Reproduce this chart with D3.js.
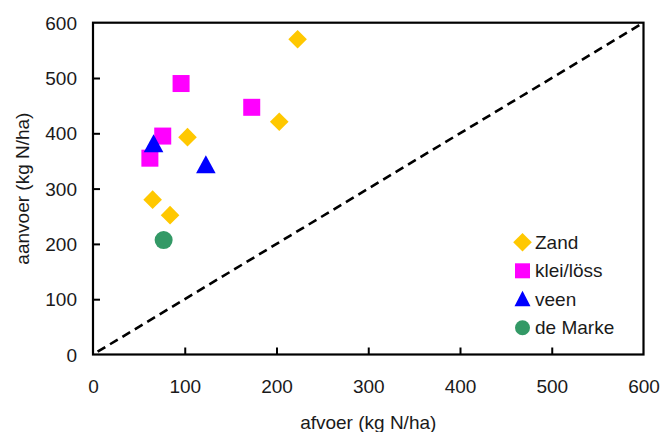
<!DOCTYPE html>
<html><head><meta charset="utf-8">
<script src="https://cdn.jsdelivr.net/npm/d3@7"></script>
<style>body{margin:0;background:#fff}svg{display:block}text{font-family:"Liberation Sans",Arial,sans-serif;fill:#1a1a1a}</style>
</head><body><svg id="c" width="663" height="432"></svg>
<script>
const xTicks = [0,100,200,300,400,500,600];
const yTicks = [0,100,200,300,400,500,600];
const seriesNames = ["Zand","klei/löss","veen","de Marke"];
const zandX = [223,203,103,65,84];
const zandY = [570,421,393,280,252];
const kleiX = [96,173,76,62];
const kleiY = [490,447,395,355];
const veenX = [66,123];
const veenY = [381,343];
const markeX = [77];
const markeY = [207];
const xTitle = "afvoer (kg N/ha)";
const yTitle = "aanvoer (kg N/ha)";

const svg = d3.select("#c");
const x = d3.scaleLinear().domain([0,600]).range([93,643.5]);
const y = d3.scaleLinear().domain([0,600]).range([354.5,22.7]);
const colors = ["#FFC800","#FF00FF","#0000FF","#339966"];

svg.append("clipPath").attr("id","pc").append("rect")
  .attr("x",x(0)).attr("y",y(600)).attr("width",x(600)-x(0)).attr("height",y(0)-y(600));

svg.append("line").attr("clip-path","url(#pc)")
  .attr("x1",x(5)).attr("y1",y(5)).attr("x2",x(600)).attr("y2",y(600))
  .attr("stroke","#000").attr("stroke-width",2.6).attr("stroke-dasharray","9,5.5");

const xa = svg.append("g").attr("transform",`translate(0,${y(0)})`)
  .call(d3.axisBottom(x).tickValues(xTicks).tickSize(-7).tickPadding(0).tickFormat(d3.format("d")));
xa.select(".domain").remove();
xa.selectAll("line").attr("stroke","#000").attr("stroke-width",2).filter(d=>d===0||d===600).remove();
xa.selectAll("text").attr("y",32).attr("dy","0.35em").attr("font-size",19);

const ya = svg.append("g").attr("transform",`translate(${x(0)},0)`)
  .call(d3.axisLeft(y).tickValues(yTicks).tickSize(-7).tickPadding(0).tickFormat(d3.format("d")));
ya.select(".domain").remove();
ya.selectAll("line").attr("stroke","#000").attr("stroke-width",2).filter(d=>d===0||d===600).remove();
ya.selectAll("text").attr("x",-16).attr("dy","0.35em").attr("font-size",19);
svg.selectAll(".tick text").style("fill","#1a1a1a").attr("font-family","'Liberation Sans',Arial,sans-serif");

svg.append("rect").attr("x",x(0)).attr("y",y(600)).attr("width",x(600)-x(0)).attr("height",y(0)-y(600))
  .attr("fill","none").attr("stroke","#000").attr("stroke-width",2.2);

function diamond(g,cx,cy,c){g.append("path").attr("d",`M${cx},${cy-9.3}L${cx+9.3},${cy}L${cx},${cy+9.3}L${cx-9.3},${cy}Z`).attr("fill",c);}
function square(g,cx,cy,c){g.append("rect").attr("x",cx-8.5).attr("y",cy-8.5).attr("width",17).attr("height",17).attr("fill",c);}
function tri(g,cx,cy,c){g.append("path").attr("d",`M${cx},${cy-9.5}L${cx+9.8},${cy+8.5}L${cx-9.8},${cy+8.5}Z`).attr("fill",c);}
function circ(g,cx,cy,c){g.append("circle").attr("cx",cx).attr("cy",cy).attr("r",9).attr("fill",c);}
const drawers=[diamond,square,tri,circ];
const data=[[zandX,zandY],[kleiX,kleiY],[veenX,veenY],[markeX,markeY]];
const pts=svg.append("g");
data.forEach(([xs,ys],i)=>xs.forEach((v,j)=>drawers[i](pts,x(v),y(ys[j]),colors[i])));

const lg=svg.append("g");
seriesNames.forEach((n,i)=>{
  const cy=242.3+i*28.5;
  const g=lg.append("g");
  if(i===0) diamond(g,522.5,cy,colors[0]);
  if(i===1) { g.append("rect").attr("x",515).attr("y",cy-7.5).attr("width",15).attr("height",15).attr("fill",colors[1]); }
  if(i===2) g.append("path").attr("d",`M522.5,${cy-8.5}L530.5,${cy+7}L514.5,${cy+7}Z`).attr("fill",colors[2]);
  if(i===3) g.append("circle").attr("cx",522.5).attr("cy",cy).attr("r",7.5).attr("fill",colors[3]);
  lg.append("text").attr("x",535).attr("y",cy).attr("dy","0.35em").attr("font-size",19).text(n);
});

svg.append("text").attr("x",(x(0)+x(600))/2).attr("y",429).attr("text-anchor","middle").attr("font-size",19).text(xTitle);
svg.append("text").attr("transform",`translate(28.5,${(y(0)+y(600))/2}) rotate(-90)`).attr("text-anchor","middle").attr("font-size",19).text(yTitle);
</script></body></html>
